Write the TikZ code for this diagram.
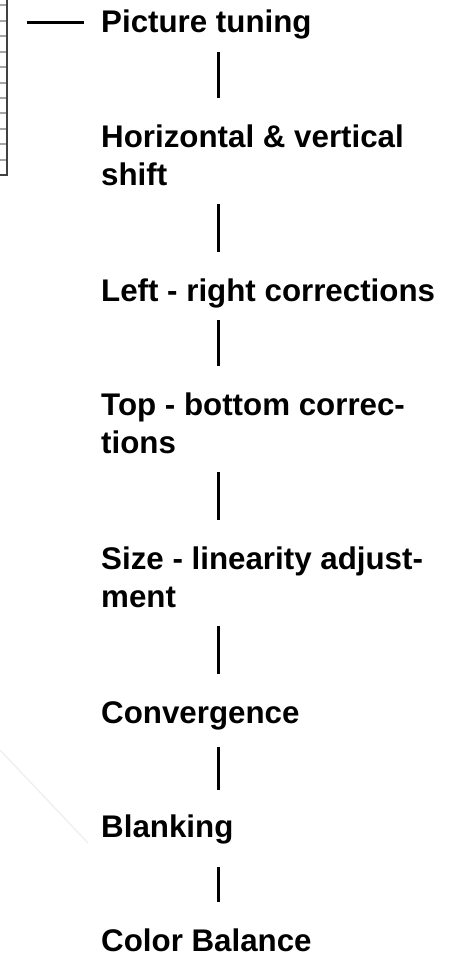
\documentclass[tikz,border=0pt]{standalone}
\usepackage{fontspec}
\setmainfont{Liberation Sans}
\newcommand{\lblt}[1]{\begin{tabular}[t]{@{}l@{}}#1\end{tabular}}
\begin{document}
\begin{tikzpicture}[x=1pt,y=-1pt,
  lbl/.style={anchor=base west, inner sep=0pt, font=\fontsize{31.3}{38}\selectfont\bfseries},
  conn/.style={line width=3pt, black},
  tabline/.style={line width=1.2pt, gray!70},
  tabedge/.style={line width=2pt, black!75}]
\useasboundingbox (0,0) rectangle (465,955);
% partial table at the top left
\foreach \yy in {5,21,36,52,67,83,98,113,129,144,160}
  \draw[tabline] (0,\yy) -- (7,\yy);
\draw[tabedge] (0,175) -- (8,175);
\draw[tabedge] (7,0) -- (7,176);
% faint diagonal
\draw[gray!12, line width=1.5pt] (0,750) -- (88,843);
\coordinate (lx) at (218,0);
\node[lbl] (n1) at (101,33)  {\lblt{Picture tuning}};
\node[lbl] (n2) at (101,147) {\lblt{Horizontal \& vertical\\shift}};
\node[lbl] (n3) at (101,301) {\lblt{Left - right corrections}};
\node[lbl] (n4) at (101,415) {\lblt{Top - bottom correc-\\tions}};
\node[lbl] (n5) at (101,569) {\lblt{Size - linearity adjust-\\ment}};
\node[lbl] (n6) at (101,723) {\lblt{Convergence}};
\node[lbl] (n7) at (101,837) {\lblt{Blanking}};
\node[lbl] (n8) at (101,951) {\lblt{Color Balance}};
% connector from table to first label
\draw[conn] ([xshift=-17pt,yshift=10pt]n1.base west) -- ([xshift=-74pt,yshift=10pt]n1.base west);
% vertical connectors
\foreach \a/\b in {n1/n2,n2/n3,n3/n4,n4/n5,n5/n6}
  \draw[conn] ([yshift=-7.6pt]\a.south -| lx) -- ([yshift=22.4pt]\b.north -| lx);
\draw[conn] ([yshift=-12pt]n6.south -| lx) -- ([yshift=20pt]n7.north -| lx);
\draw[conn] ([yshift=-18.6pt]n7.south -| lx) -- ([yshift=22.4pt]n8.north -| lx);
\end{tikzpicture}
\end{document}
